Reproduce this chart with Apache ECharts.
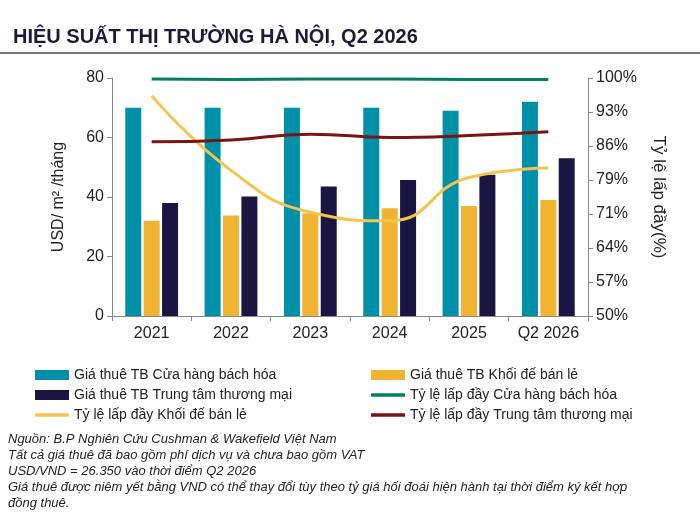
<!DOCTYPE html><html><head><meta charset="utf-8"><script src="https://cdn.jsdelivr.net/npm/echarts@6/dist/echarts.min.js"></script>
<style>body{margin:0;background:#fff}#c{width:700px;height:516px}</style></head><body><div id="c"></div><script>
const categories=['2021','2022','2023','2024','2025','Q2 2026'];
const rentDept=[70,70,70,70,69,72];
const rentPodium=[32,33.8,34.5,36.2,37,39];
const rentMall=[38,40.2,43.5,45.7,47.5,53];
const occDept=[99.8,99.7,99.8,99.8,99.7,99.7];
const occPodium=[96.3,80.6,71.8,70,79.1,81.1];
const occMall=[86.6,87,88.2,87.5,87.9,88.7];
const ff='Arial, Liberation Sans, sans-serif';
const c=echarts.init(document.getElementById('c'));
const notes=['Nguồn: B.P Nghiên Cứu Cushman & Wakefield Việt Nam','Tất cả giá thuê đã bao gồm phí dịch vụ và chưa bao gồm VAT','USD/VND = 26.350 vào thời điểm Q2 2026','Giá thuê được niêm yết bằng VND có thể thay đổi tùy theo tỷ giá hối đoái hiện hành tại thời điểm ký kết hợp','đồng thuê.'];
const lineIcon='path://M0,4L30,4L30,7L0,7Z';
const lg={orient:'vertical',top:363,itemWidth:34,itemHeight:10,itemGap:6,textStyle:{fontFamily:ff,fontSize:14,color:'#222'}};
c.setOption({
 animation:false,
 title:{text:'HIỆU SUẤT THỊ TRƯỜNG HÀ NỘI, Q2 2026',left:8,top:22,textStyle:{fontFamily:ff,fontSize:20,fontWeight:'bold',color:'#1a1a3a'}},
 graphic:[{type:'line',shape:{x1:0,y1:53,x2:700,y2:53},style:{stroke:'#444',lineWidth:1.5}},
  {type:'text',left:8,top:431,style:{text:notes.join('\n'),font:'italic 13px '+ff,fill:'#222',lineHeight:16}}],
 legend:[Object.assign({left:30,data:[{name:'Giá thuê TB Cửa hàng bách hóa',icon:'rect'},{name:'Giá thuê TB Trung tâm thương mại',icon:'rect'},{name:'Tỷ lệ lấp đầy Khối đế bán lẻ',icon:lineIcon}]},lg),
  Object.assign({left:366,data:[{name:'Giá thuê TB Khối đế bán lẻ',icon:'rect'},{name:'Tỷ lệ lấp đầy Cửa hàng bách hóa',icon:lineIcon},{name:'Tỷ lệ lấp đầy Trung tâm thương mại',icon:lineIcon}]},lg)],
 grid:{left:112,right:112,top:78,bottom:200},
 xAxis:{type:'category',data:categories,axisTick:{show:true},axisLine:{lineStyle:{color:'#888'}},axisLabel:{interval:0,fontFamily:ff,fontSize:16,color:'#222',margin:10}},
 yAxis:[{type:'value',min:0,max:80,interval:20,name:'USD/ m² /tháng',nameLocation:'middle',nameGap:45,nameTextStyle:{fontFamily:ff,fontSize:16,color:'#222'},splitLine:{show:false},axisLine:{show:true,lineStyle:{color:'#888'}},axisTick:{show:true},axisLabel:{fontFamily:ff,fontSize:16,color:'#222'}},
  {type:'value',min:50,max:100,interval:50/7,name:'Tỷ lệ lấp đầy(%)',nameLocation:'middle',nameGap:62,nameRotate:-90,nameTextStyle:{fontFamily:ff,fontSize:17,color:'#222'},splitLine:{show:false},axisLine:{show:true,lineStyle:{color:'#888'}},axisTick:{show:true},axisLabel:{fontFamily:ff,fontSize:16,color:'#222',formatter:v=>Math.round(v)+'%'}}],
 series:[
  {name:'Giá thuê TB Cửa hàng bách hóa',type:'bar',data:rentDept,itemStyle:{color:'#0091a8'},barWidth:16,barGap:'15%'},
  {name:'Giá thuê TB Khối đế bán lẻ',type:'bar',data:rentPodium,itemStyle:{color:'#f0b432'},barWidth:16},
  {name:'Giá thuê TB Trung tâm thương mại',type:'bar',data:rentMall,itemStyle:{color:'#1b1542'},barWidth:16},
  {name:'Tỷ lệ lấp đầy Cửa hàng bách hóa',type:'line',yAxisIndex:1,data:occDept,smooth:true,symbol:'none',lineStyle:{color:'#00805c',width:3},itemStyle:{color:'#00805c'}},
  {name:'Tỷ lệ lấp đầy Khối đế bán lẻ',type:'line',yAxisIndex:1,data:occPodium,smooth:true,symbol:'none',lineStyle:{color:'#f5c44e',width:3},itemStyle:{color:'#f5c44e'}},
  {name:'Tỷ lệ lấp đầy Trung tâm thương mại',type:'line',yAxisIndex:1,data:occMall,smooth:true,symbol:'none',lineStyle:{color:'#7a1414',width:3},itemStyle:{color:'#7a1414'}}
 ]});
</script></body></html>
